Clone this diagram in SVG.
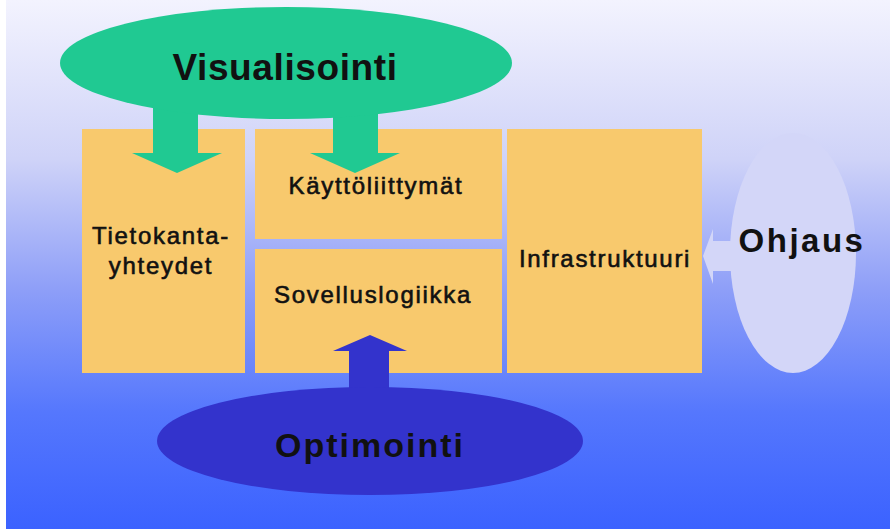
<svg xmlns="http://www.w3.org/2000/svg" width="890" height="529" viewBox="0 0 890 529">
  <defs>
    <linearGradient id="bg" x1="0" y1="0" x2="0" y2="1">
      <stop offset="0" stop-color="#f3f3fe"/>
      <stop offset="0.3" stop-color="#cfd3f8"/>
      <stop offset="0.55" stop-color="#8d9ef8"/>
      <stop offset="0.78" stop-color="#5577fd"/>
      <stop offset="1" stop-color="#3b62ff"/>
    </linearGradient>
    <style>
      .box { fill: #f8c96d; }
      .lbl { font-family: "Liberation Sans", Arial, sans-serif; font-size: 24px; fill: #111; stroke: #111; stroke-width: 0.6; letter-spacing: 1.7px; text-anchor: middle; }
      .big { font-family: "Liberation Sans", Arial, sans-serif; font-weight: bold; fill: #111; text-anchor: middle; }
      .green { fill: #20c992; }
      .navy { fill: #3333cc; }
      .pale { fill: #d3d6f8; }
    </style>
  </defs>

  <!-- background -->
  <rect x="0" y="0" width="890" height="529" fill="#ffffff"/>
  <rect x="6" y="0" width="884" height="529" fill="url(#bg)"/>

  <!-- layer boxes -->
  <g id="tietokanta">
    <rect class="box" x="82" y="129" width="163" height="244"/>
    <text class="lbl" x="161" y="244">Tietokanta-</text>
    <text class="lbl" x="161" y="274">yhteydet</text>
  </g>
  <g id="kayttoliittymat">
    <rect class="box" x="255" y="129" width="247" height="110"/>
    <text class="lbl" x="376" y="194">Käyttöliittymät</text>
  </g>
  <g id="sovelluslogiikka">
    <rect class="box" x="255" y="249" width="247" height="124"/>
    <text class="lbl" x="373" y="303">Sovelluslogiikka</text>
  </g>
  <g id="infrastruktuuri">
    <rect class="box" x="507" y="129" width="195" height="244"/>
    <text class="lbl" x="605" y="267">Infrastruktuuri</text>
  </g>

  <!-- arrows -->
  <g id="connectors">
    <path class="green" d="M153,100 H198 V153 H222 L177,173 L132,153 H153 Z"/>
    <path class="green" d="M333,100 H378 V153 H400 L355,173 L310,153 H333 Z"/>
    <path class="navy" d="M349,395 V351 H333 L370,335 L407,351 H389 V395 Z"/>
    <path class="pale" d="M740,241 H713 V229 L703,256 L713,284 V271 H740 Z"/>
  </g>

  <!-- concerns -->
  <g id="visualisointi">
    <ellipse class="green" cx="286" cy="63" rx="226" ry="56"/>
    <text class="big" x="285" y="80" font-size="37" letter-spacing="0.6">Visualisointi</text>
  </g>
  <g id="optimointi">
    <ellipse class="navy" cx="370" cy="441" rx="213" ry="54"/>
    <text class="big" x="370" y="457" font-size="34" letter-spacing="2">Optimointi</text>
  </g>
  <g id="ohjaus">
    <ellipse class="pale" cx="793" cy="253" rx="63" ry="120"/>
    <text class="big" x="802" y="252" font-size="33" letter-spacing="2.5">Ohjaus</text>
  </g>
</svg>
